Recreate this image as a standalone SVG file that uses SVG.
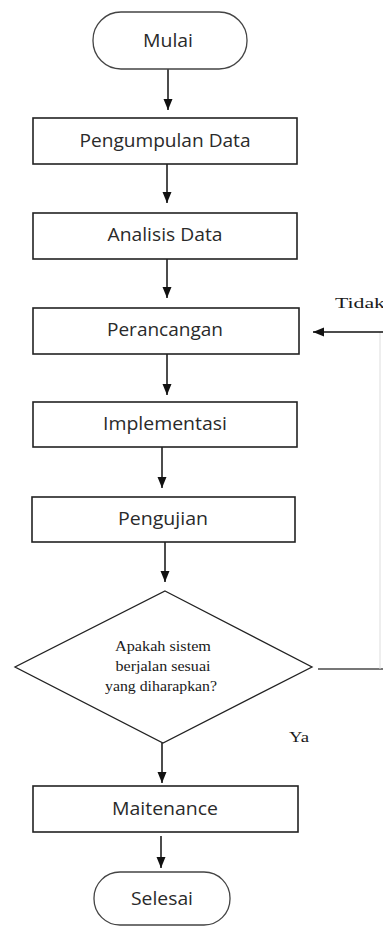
<svg xmlns="http://www.w3.org/2000/svg" width="383" height="926" viewBox="0 0 383 926">
<defs>
<marker id="ah" markerUnits="userSpaceOnUse" markerWidth="11" markerHeight="10" refX="11" refY="5" orient="auto">
<path d="M0,0.5 L11,5 L0,9.5 z" fill="#111"/>
</marker>
<style>
.box{fill:#fff;stroke:#222;stroke-width:1.6}
.term{fill:#fff;stroke:#444;stroke-width:1.3}
.dia{fill:#fff;stroke:#222;stroke-width:1.3}
.lbl{font-family:"Open Sans","Liberation Sans",sans-serif;font-size:17.5px;fill:#2a2a2a;text-anchor:middle}
.ser{font-family:"Liberation Serif","Times New Roman",serif;font-size:15.5px;fill:#1a1a1a}
.arr{stroke:#111;stroke-width:1.5;fill:none;marker-end:url(#ah)}
</style>
</defs>
<rect width="383" height="926" fill="#fff"/>
<g id="connectors">
<line class="arr" x1="168" y1="69" x2="168" y2="110"/>
<line class="arr" x1="167" y1="164" x2="167" y2="203"/>
<line class="arr" x1="167" y1="259" x2="167" y2="298"/>
<line class="arr" x1="167" y1="354" x2="167" y2="395"/>
<line class="arr" x1="162" y1="447" x2="162" y2="488"/>
<line class="arr" x1="165" y1="542" x2="165" y2="582"/>
<line class="arr" x1="162" y1="743" x2="162" y2="783"/>
<line class="arr" x1="161" y1="836" x2="161" y2="868"/>
<line x1="318" y1="669" x2="383" y2="669" stroke="#777" stroke-width="2"/>
<line x1="380" y1="332" x2="380" y2="669" stroke="#ddd" stroke-width="1"/>
<line class="arr" x1="383" y1="332" x2="313" y2="332"/>
<text class="ser" x="335" y="308" textLength="50" lengthAdjust="spacingAndGlyphs">Tidak</text>
<text class="ser" x="289" y="742" textLength="20" lengthAdjust="spacingAndGlyphs">Ya</text>
</g>
<g id="mulai">
<rect class="term" x="93" y="12" width="154" height="57" rx="28" ry="28"/>
<text class="lbl" x="168" y="47" textLength="50" lengthAdjust="spacingAndGlyphs">Mulai</text>
</g>
<g id="pengumpulan">
<rect class="box" x="33" y="118" width="264" height="46"/>
<text class="lbl" x="165" y="147" textLength="171" lengthAdjust="spacingAndGlyphs">Pengumpulan Data</text>
</g>
<g id="analisis">
<rect class="box" x="33" y="213" width="264" height="46"/>
<text class="lbl" x="165" y="241" textLength="115" lengthAdjust="spacingAndGlyphs">Analisis Data</text>
</g>
<g id="perancangan">
<rect class="box" x="33" y="308" width="266" height="46"/>
<text class="lbl" x="165" y="336" textLength="116" lengthAdjust="spacingAndGlyphs">Perancangan</text>
</g>
<g id="implementasi">
<rect class="box" x="33" y="402" width="264" height="45"/>
<text class="lbl" x="165" y="430" textLength="124" lengthAdjust="spacingAndGlyphs">Implementasi</text>
</g>
<g id="pengujian">
<rect class="box" x="32" y="497" width="263" height="45"/>
<text class="lbl" x="163" y="525" textLength="90" lengthAdjust="spacingAndGlyphs">Pengujian</text>
</g>
<g id="keputusan">
<polygon class="dia" points="165,591 312,667 163,743 15,667"/>
<text class="ser" x="163" y="651" text-anchor="middle" textLength="96" lengthAdjust="spacingAndGlyphs">Apakah sistem</text>
<text class="ser" x="163" y="671" text-anchor="middle" textLength="95" lengthAdjust="spacingAndGlyphs">berjalan sesuai</text>
<text class="ser" x="161" y="691" text-anchor="middle" textLength="112" lengthAdjust="spacingAndGlyphs">yang diharapkan?</text>
</g>
<g id="maintenance">
<rect class="box" x="33" y="786" width="265" height="46"/>
<text class="lbl" x="165" y="815" textLength="106" lengthAdjust="spacingAndGlyphs">Maitenance</text>
</g>
<g id="selesai">
<rect class="term" x="94" y="872" width="136" height="53" rx="26" ry="26"/>
<text class="lbl" x="162" y="905" textLength="62" lengthAdjust="spacingAndGlyphs">Selesai</text>
</g>
</svg>
